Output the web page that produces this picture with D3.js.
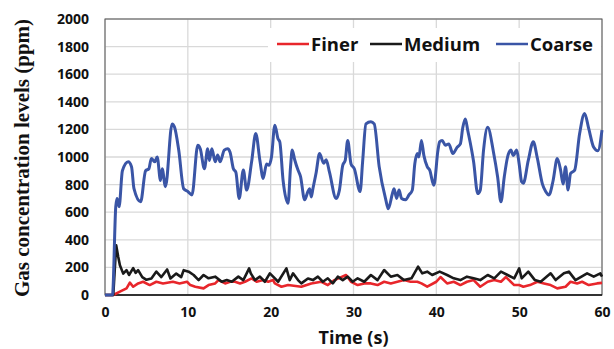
<!DOCTYPE html>
<html lang="en">
<head>
<meta charset="UTF-8">
<title>Gas concentration</title>
<script src="https://d3js.org/d3.v7.min.js"></script>
<style>
    body { margin: 0; background: #fff; }
    svg text { font-family: 'Open Sans', Lato, sans-serif; font-weight: bold; fill: #111; }
    .tick text { font-size: 14px; }
</style>
</head>
<body>
<div id="chart"></div>
<script>
    // values: [time (s), ppm]
    const finer = [[0,0],[1.0,0],[1.8,24],[2.6,48],[3.0,90],[3.4,60],[4.0,84],[4.6,96],[5.4,72],[6.2,96],[7.0,84],[8.2,96],[9.0,84],[9.9,96],[10.3,72],[10.9,60],[11.9,48],[12.5,72],[13.3,84],[13.7,108],[14.5,84],[15.1,96],[15.7,96],[16.3,84],[16.9,96],[17.7,120],[18.3,96],[19.1,108],[19.7,96],[20.3,108],[20.5,84],[21.3,60],[22.1,72],[23.7,60],[24.9,84],[26.1,96],[26.9,72],[27.7,108],[29.1,145],[29.7,96],[30.5,72],[31.3,84],[32.1,84],[32.9,72],[33.7,96],[34.5,84],[35.3,96],[36.1,108],[36.9,96],[37.7,96],[38.2,84],[38.9,60],[40.0,96],[40.5,130],[41.3,84],[42.1,96],[42.9,72],[43.7,96],[44.5,108],[45.3,60],[46.2,96],[47.0,108],[47.8,96],[48.4,130],[49.4,72],[50.0,72],[50.5,60],[51.3,72],[52.2,96],[53.0,84],[53.8,72],[54.6,48],[55.6,60],[56.2,96],[57.0,84],[57.6,96],[58.4,72],[59.4,84],[60,88]];
    const medium = [[0,0],[1.0,0],[1.35,360],[1.6,275],[1.8,215],[2.2,155],[2.6,180],[2.9,145],[3.4,195],[3.7,160],[4.0,180],[4.5,130],[5.0,110],[5.6,120],[6.2,170],[6.8,130],[7.5,185],[7.9,120],[8.6,155],[9.2,130],[9.5,180],[10.1,169],[10.7,145],[11.3,108],[11.9,145],[12.5,121],[13.3,133],[14.1,96],[14.7,108],[15.3,96],[16.1,133],[16.7,108],[17.4,193],[17.6,157],[18.1,108],[18.7,133],[19.3,96],[19.9,157],[20.3,133],[20.9,96],[21.9,193],[22.3,108],[22.7,157],[23.3,108],[23.7,84],[24.5,120],[25.1,108],[25.7,133],[26.3,96],[26.9,121],[27.5,84],[28.1,133],[28.7,108],[29.3,133],[29.9,96],[30.5,121],[31.3,96],[32.1,145],[32.9,108],[33.7,181],[34.5,133],[35.3,145],[36.1,108],[37.0,121],[37.8,205],[38.3,157],[38.9,169],[39.5,145],[40.4,169],[41.3,145],[42.1,121],[42.9,108],[43.7,133],[44.5,121],[45.3,108],[46.2,145],[47.0,121],[47.8,169],[48.6,145],[49.4,121],[50.0,193],[50.3,121],[51.1,169],[51.9,108],[52.6,96],[53.8,157],[54.4,108],[55.4,157],[56.0,169],[56.8,108],[58.2,157],[59.0,133],[59.8,157],[60,133]];
    const coarse = [[0,0],[0.9,0],[1.3,640],[1.45,700],[1.7,640],[2.1,900],[2.8,965],[3.2,930],[3.5,770],[4.3,675],[4.9,900],[5.3,915],[5.6,990],[6.0,965],[6.3,1000],[6.7,830],[6.9,915],[7.3,785],[8.1,1240],[8.4,1215],[8.9,1050],[9.5,770],[10.0,750],[10.5,725],[11.2,1085],[11.5,1060],[12.0,915],[12.4,1060],[12.6,975],[12.9,1060],[13.3,965],[13.6,1015],[13.9,965],[14.4,1050],[14.8,1060],[15.1,1035],[15.5,915],[15.8,890],[16.2,700],[16.7,905],[17.1,760],[17.7,965],[18.2,1170],[18.7,975],[19.1,845],[19.5,950],[19.8,940],[20.1,1000],[20.5,1230],[20.9,1130],[21.1,1110],[21.5,830],[22.1,665],[22.4,930],[22.6,1050],[22.9,980],[23.3,905],[23.6,860],[24.1,690],[24.5,750],[24.7,770],[24.9,710],[25.1,770],[25.5,890],[25.9,1025],[26.4,955],[26.7,980],[27.1,890],[27.9,700],[28.3,760],[28.7,940],[29.0,975],[29.3,1120],[29.7,950],[30.1,915],[30.8,750],[31.1,965],[31.5,1240],[32.1,1255],[32.5,1240],[33.1,930],[33.9,690],[34.2,625],[34.7,735],[34.9,770],[35.2,700],[35.5,760],[35.8,700],[36.3,690],[36.7,725],[37.1,760],[37.4,950],[37.7,1025],[37.9,1000],[38.2,1120],[38.5,1010],[38.9,930],[39.2,905],[39.7,795],[40.2,1050],[40.4,1110],[40.7,1120],[41.1,1085],[41.5,1095],[42.0,1025],[42.5,1070],[42.9,1095],[43.2,1215],[43.5,1275],[43.8,1190],[44.5,965],[45.0,735],[45.3,760],[45.7,1050],[46.2,1215],[46.9,1035],[47.4,855],[47.8,675],[48.2,855],[48.6,1000],[49.0,1050],[49.3,1010],[49.7,1050],[50.0,950],[50.3,820],[50.5,810],[51.1,975],[51.7,1110],[52.2,990],[52.8,805],[53.2,750],[53.6,725],[54.1,830],[54.6,990],[55.0,905],[55.3,805],[55.6,930],[55.9,760],[56.2,880],[56.7,905],[57.3,1170],[57.9,1315],[58.4,1205],[59.0,1070],[59.5,1045],[60,1195]];

    const seriesNames = ["Finer", "Medium", "Coarse"];
    const seriesColors = ["#e8262b", "#1a1a1a", "#3a55a6"];
    const seriesData = [finer, medium, coarse];
    const xTicks = [0, 10, 20, 30, 40, 50, 60];
    const yTicks = [0, 200, 400, 600, 800, 1000, 1200, 1400, 1600, 1800, 2000];

    const w = 614, h = 349;
    const plotL = 105, plotR = 602, plotT = 19, plotB = 295;

    const svg = d3.select("#chart").append("svg")
        .attr("width", w)
        .attr("height", h);

    const x = d3.scaleLinear().domain([0, 60]).range([plotL, plotR]);
    const y = d3.scaleLinear().domain([0, 2000]).range([plotB, plotT]);

    // grid
    svg.append("g").selectAll("line")
        .data(yTicks)
        .enter().append("line")
        .attr("x1", plotL).attr("x2", plotR)
        .attr("y1", d => y(d)).attr("y2", d => y(d))
        .attr("stroke", "#d9d9d9").attr("stroke-width", 1.3);
    svg.append("g").selectAll("line")
        .data(xTicks)
        .enter().append("line")
        .attr("x1", d => x(d)).attr("x2", d => x(d))
        .attr("y1", plotT).attr("y2", plotB)
        .attr("stroke", "#d9d9d9").attr("stroke-width", 1.3);

    // frame
    svg.append("rect")
        .attr("x", plotL).attr("y", plotT)
        .attr("width", plotR - plotL).attr("height", plotB - plotT)
        .attr("fill", "none").attr("stroke", "#555").attr("stroke-width", 1);
    svg.append("line")
        .attr("x1", plotL).attr("x2", plotR).attr("y1", plotB).attr("y2", plotB)
        .attr("stroke", "#111").attr("stroke-width", 1.5);

    const yAxis = d3.axisLeft(y).tickValues(yTicks).tickFormat(d3.format("d")).tickSize(0).tickPadding(16);
    svg.append("g")
        .attr("transform", "translate(" + plotL + ",0)")
        .call(yAxis)
        .call(g => g.select(".domain").remove());

    const xAxis = d3.axisBottom(x).tickValues(xTicks).tickSize(0).tickPadding(12);
    svg.append("g")
        .attr("transform", "translate(0," + plotB + ")")
        .call(xAxis)
        .call(g => g.select(".domain").remove());

    svg.selectAll(".tick text").attr("fill", "#111");

    // lines
    const smooth = d3.line()
        .x(d => x(d[0]))
        .y(d => y(d[1]))
        .curve(d3.curveMonotoneX);
    const jagged = d3.line()
        .x(d => x(d[0]))
        .y(d => y(d[1]));

    seriesData.forEach((data, i) => {
        svg.append("path")
            .datum(data)
            .attr("d", i === 2 ? smooth : jagged)
            .attr("fill", "none")
            .attr("stroke", seriesColors[i])
            .attr("stroke-width", i === 2 ? 3 : 2.6)
            .attr("stroke-linejoin", "round");
    });

    // legend
    const legend = svg.append("g");
    legend.append("rect")
        .attr("x", 268).attr("y", 28)
        .attr("width", plotR - 268 - 1).attr("height", 34)
        .attr("fill", "#fff");
    const legendX = [277, 370, 496];
    seriesNames.forEach((name, i) => {
        legend.append("line")
            .attr("x1", legendX[i]).attr("x2", legendX[i] + 32)
            .attr("y1", 44).attr("y2", 44)
            .attr("stroke", seriesColors[i]).attr("stroke-width", 2.5);
        legend.append("text")
            .attr("x", legendX[i] + 34).attr("y", 50.5)
            .attr("font-size", 18.5)
            .text(name);
    });

    // axis titles
    svg.append("text")
        .attr("x", x(30)).attr("y", 344)
        .attr("text-anchor", "middle")
        .attr("font-size", 18)
        .text("Time (s)");

    svg.append("text")
        .attr("transform", "translate(29," + 158 + ") rotate(-90)")
        .attr("text-anchor", "middle")
        .style("font-family", "'Liberation Serif', 'Times New Roman', serif")
        .attr("font-size", 21)
        .text("Gas concentration levels (ppm)");
</script>
</body>
</html>
